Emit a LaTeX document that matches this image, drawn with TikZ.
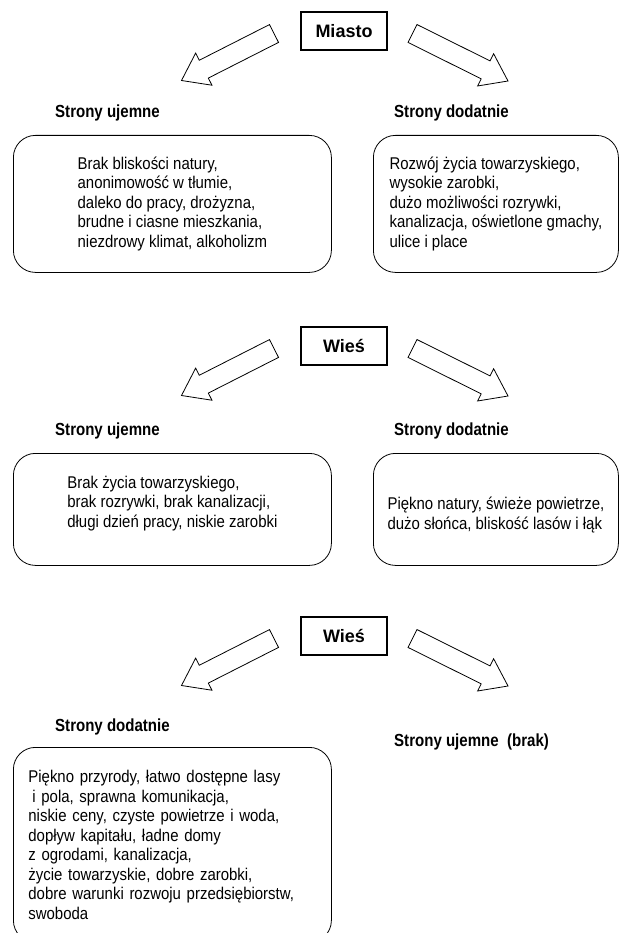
\documentclass[tikz,border=0pt]{standalone}
\usepackage{fontspec}
\setmainfont{Liberation Sans}
\newfontfamily\narrowfont{Liberation Sans}[FakeStretch=0.88]
\newfontfamily\headfont{Liberation Sans}[FakeStretch=0.86]
\usetikzlibrary{calc}
\tikzset{
  hollow/.style={draw,line width=0.8pt,to path={
      ($(\tikztostart)!10pt!90:(\tikztotarget)$)
      -- ($($(\tikztotarget)!25pt!(\tikztostart)$)!10pt!-90:(\tikztostart)$)
      -- ($($(\tikztotarget)!25pt!(\tikztostart)$)!18pt!-90:(\tikztostart)$)
      -- (\tikztotarget)
      -- ($($(\tikztotarget)!25pt!(\tikztostart)$)!18pt!90:(\tikztostart)$)
      -- ($($(\tikztotarget)!25pt!(\tikztostart)$)!10pt!90:(\tikztostart)$)
      -- ($(\tikztostart)!10pt!-90:(\tikztotarget)$) -- cycle}},
  place/.style={draw,line width=1.6pt,minimum width=86pt,minimum height=38pt,inner sep=0pt,
      font=\bfseries\fontsize{18}{20}\selectfont},
  side/.style={inner sep=0pt,anchor=base west,font=\headfont\bfseries\fontsize{17.5}{20}\selectfont},
  listbox/.style={draw,line width=0.8pt,rounded corners=22pt,anchor=north west,align=left,
      inner sep=0pt,font=\narrowfont\fontsize{17}{19.5}\selectfont}
}
\begin{document}
\begin{tikzpicture}[x=1pt,y=-1pt]
	\useasboundingbox (0,0) rectangle (619,933);
	% miasto
	\node[place] (miasto) at (344,31) {Miasto};
	\node[side] (neg1) at (55,118) {Strony ujemne};
	\node[side] (pos1) at (394,118) {Strony dodatnie};
	\node[listbox,minimum width=318pt,minimum height=137pt] (negbox1) at (13,135)
		{Brak bliskości natury,\\ anonimowość w tłumie,\\ daleko do pracy, drożyzna,\\
		 brudne i ciasne mieszkania,\\ niezdrowy klimat, alkoholizm};
	\node[listbox,minimum width=245pt,minimum height=137pt] (posbox1) at (373,135)
		{Rozwój życia towarzyskiego,\\ wysokie zarobki,\\ dużo możliwości rozrywki,\\
		 kanalizacja, oświetlone gmachy,\\ ulice i place};
	% wies
	\node[place] (wies) at (344,346) {Wieś};
	\node[side] (neg2) at (55,435) {Strony ujemne};
	\node[side] (pos2) at (394,435) {Strony dodatnie};
	\node[listbox,minimum width=318pt,minimum height=112pt] (negbox2) at (13,453)
		{Brak życia towarzyskiego,\\ brak rozrywki, brak kanalizacji,\\
		 długi dzień pracy, niskie zarobki\rule[-16pt]{0pt}{16pt}};
	\node[listbox,minimum width=245pt,minimum height=112pt] (posbox2) at (373,453)
		{\rule{0pt}{24pt}Piękno natury, świeże powietrze,\\ dużo słońca, bliskość lasów i łąk};
	% wies, bez wad
	\node[place] (wiesb) at (344,636) {Wieś};
	\node[side] (pos3) at (55,731) {Strony dodatnie};
	\node[side] (neg3) at (394,746) {Strony ujemne\ \ (brak)};
	\node[listbox,minimum width=318pt,minimum height=195pt,text width=288pt,inner xsep=15pt] (posbox3) at (13,747)
		{Piękno przyrody, łatwo dostępne lasy\\ \hspace*{4pt}i pola, sprawna komunikacja,\\
		 niskie ceny, czyste powietrze i woda,\\ dopływ kapitału, ładne domy\\
		 z ogrodami, kanalizacja,\\ życie towarzyskie, dobre zarobki,\\
		 dobre warunki rozwoju przedsiębiorstw,\\ swoboda};
	% strzalki
	\foreach \t in {miasto,wies,wiesb}{
		\coordinate (\t-lt) at ($(\t)+(-70,2.5)$);
		\coordinate (\t-lh) at ($(\t)+(-162.5,49.5)$);
		\coordinate (\t-rt) at ($(\t)+(68.5,2.5)$);
		\coordinate (\t-rh) at ($(\t)+(164,50)$);
		\draw[hollow] (\t-lt) to (\t-lh);
		\draw[hollow] (\t-rt) to (\t-rh);
	}
\end{tikzpicture}
\end{document}
